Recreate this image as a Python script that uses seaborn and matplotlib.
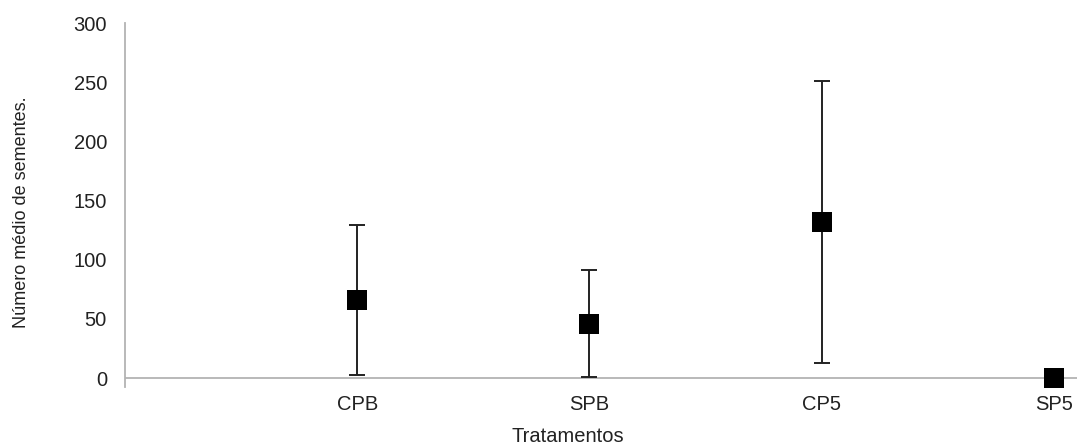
import numpy as np
import pandas as pd
import matplotlib
matplotlib.use("Agg")
import matplotlib.pyplot as plt
import seaborn as sns

categories = ["CPB", "SPB", "CP5", "SP5"]
means = [66, 46, 132, 0]
errors = [63.5, 45, 119, 0]
yticks = [0, 50, 100, 150, 200, 250, 300]

sns.set_style("white")
plt.rcParams['font.family'] = ['Liberation Sans', 'DejaVu Sans']

df = pd.DataFrame({"cat": categories, "pos": np.arange(1, len(categories) + 1),
                   "mean": means, "err": errors})

fig = plt.figure(figsize=(10.77, 4.45), dpi=100)
ax = fig.add_axes([125/1077, 58/445, (1077-125)/1077, (387-23)/445])

ax.errorbar(df["pos"], df["mean"], yerr=df["err"], fmt="none", ecolor="#222222",
            elinewidth=1.4, capsize=6, capthick=1.4, zorder=2)
sns.scatterplot(data=df, x="pos", y="mean", marker="s", s=190, color="black",
                edgecolor="black", linewidth=0, ax=ax, zorder=3, legend=False, clip_on=False)

ax.set_xlim(0, 4.1)
ax.set_ylim(-7.6, 300)
ax.axhline(0, color="#b3b3b3", linewidth=1.3, zorder=1)
for s in ["top", "right", "bottom"]:
    ax.spines[s].set_visible(False)
ax.spines["left"].set_color("#b3b3b3")
ax.spines["left"].set_linewidth(1.3)

ax.set_xticks(df["pos"])
ax.set_xticklabels(categories, fontsize=14.5, color="#222222")
ax.tick_params(axis="x", direction="in", length=7, width=1.3, color="#b3b3b3", pad=6)
ax.set_yticks(yticks)
ax.set_yticklabels([str(v) for v in yticks], fontsize=14.5, color="#222222")
ax.tick_params(axis="y", direction="out", length=8, width=1.3, color="#b3b3b3", pad=5)

ax.set_xlabel("")
ax.set_ylabel("")
fig.text(568/1077, 1 - 437/445, "Tratamentos", ha="center", va="center",
         fontsize=14.5, color="#222222")
fig.text(22/1077, 1 - 212/445, "Número médio de sementes.", ha="center", va="center",
         rotation=90, fontsize=13, color="#222222",
         family=['Liberation Sans Narrow', 'Liberation Sans', 'DejaVu Sans'])

fig.savefig("out.png", dpi=100)
